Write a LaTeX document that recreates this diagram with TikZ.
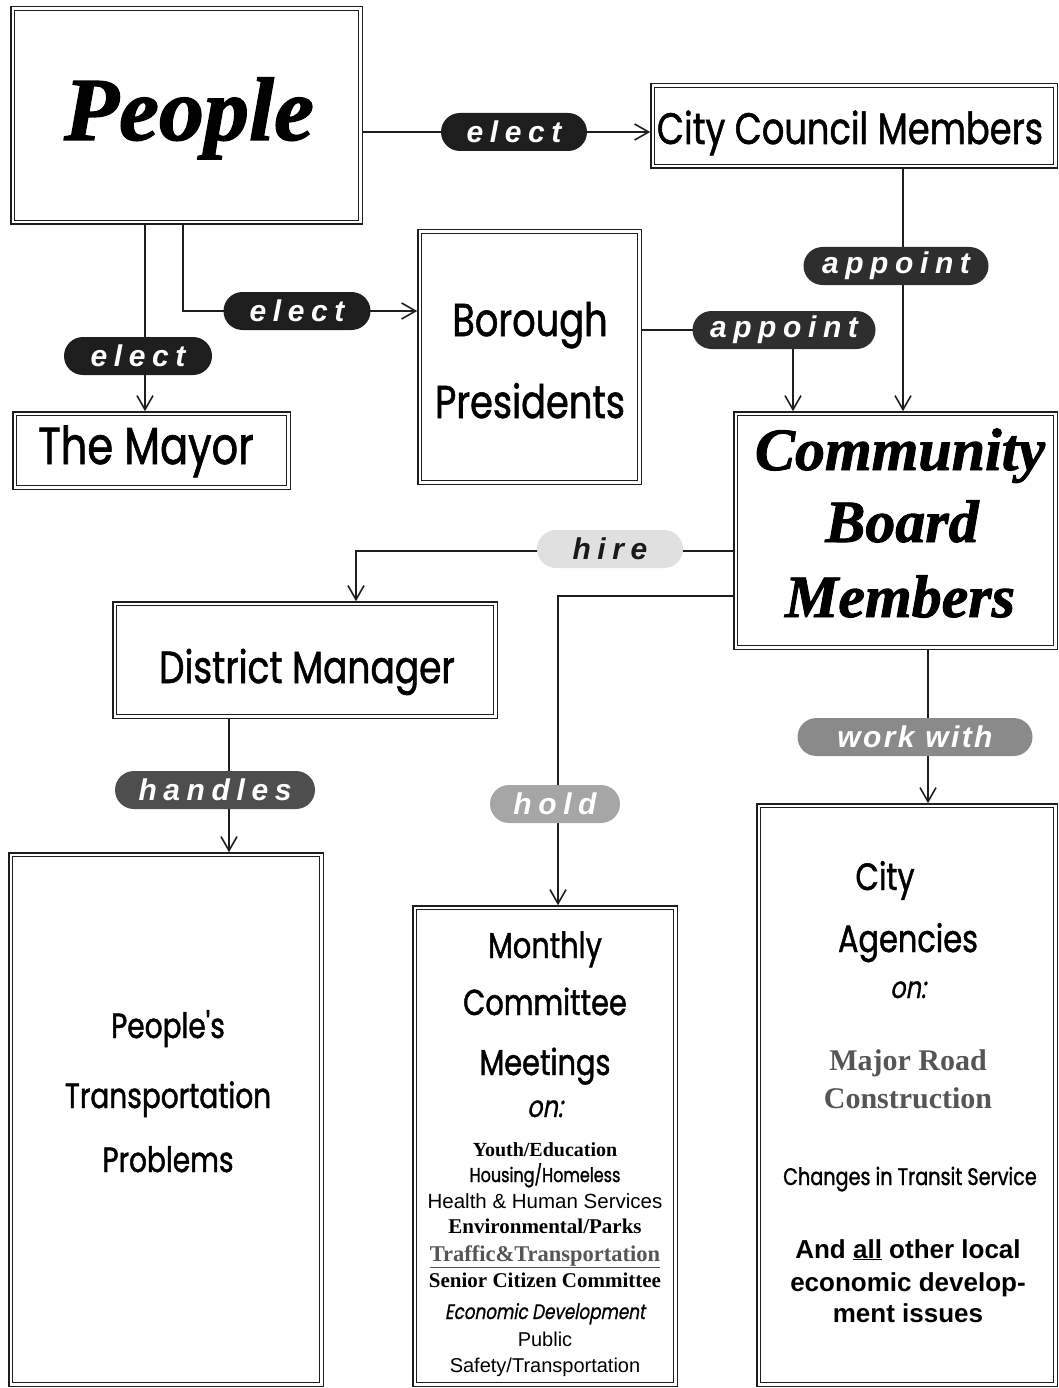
\documentclass[tikz,border=0pt]{standalone}
\usepackage{fontspec}
\setmainfont{Liberation Serif}
\newfontfamily\deco[FakeStretch=0.8,FakeBold=1.2]{Poppins}
\newfontfamily\decoit[FakeStretch=0.8,FakeSlant=0.18,FakeBold=0.8]{Poppins}
\newfontfamily\brush[FakeBold=1.5]{Liberation Serif}
\newfontfamily\pillfont[LetterSpace=22]{Liberation Sans}
\newfontfamily\pillfontw[LetterSpace=8]{Liberation Sans}
\newfontfamily\arial{Liberation Sans}
\usetikzlibrary{arrows.meta,backgrounds}
\definecolor{linec}{HTML}{1E1E1E}
\definecolor{pillA}{HTML}{1E1E1E}
\definecolor{pillB}{HTML}{2E2E2E}
\definecolor{pillC}{HTML}{4E4E4E}
\definecolor{pillD}{HTML}{8A8A8A}
\definecolor{pillE}{HTML}{A6A6A6}
\definecolor{pillF}{HTML}{E0E0E0}
\definecolor{graytext}{HTML}{555555}
\tikzset{
  box/.style={draw=linec, double=white, double distance=2.6pt, line width=1.2pt, fill=white, inner sep=0pt},
  pillbox/.style={rounded corners=19pt, minimum height=38pt, inner sep=0pt, text=white,
    font=\pillfont\bfseries\itshape\fontsize{30}{30}\selectfont},
  conn/.style={line width=1.6pt, draw=linec},
  arr/.style={conn, -{Straight Barb[length=14pt,width=16pt,line width=1.6pt]}, shorten >=2pt},
  t/.style={anchor=base, inner sep=0pt},
}
\begin{document}
\begin{tikzpicture}[x=1pt,y=-1pt]
\useasboundingbox (0,0) rectangle (1059,1388);

% boxes
\node[box, minimum width=347.4pt, minimum height=213.4pt] (people) at (186.5,115.5) {};
\node[box, minimum width=402.4pt, minimum height=80.4pt] (council) at (854,126) {};
\node[box, minimum width=219.4pt, minimum height=250.4pt] (borough) at (529.5,357) {};
\node[box, minimum width=273.4pt, minimum height=73.4pt] (mayor) at (151.5,450.5) {};
\node[box, minimum width=319.4pt, minimum height=233.4pt] (cbm) at (895.5,530.5) {};
\node[box, minimum width=380.4pt, minimum height=112.4pt] (dm) at (305,660) {};
\node[box, minimum width=310.4pt, minimum height=529.4pt] (ptp) at (166,1119.5) {};
\node[box, minimum width=260.4pt, minimum height=476.4pt] (mcm) at (545,1146) {};
\node[box, minimum width=296.4pt, minimum height=578.4pt] (agencies) at (907,1095) {};

% pills
\node[pillbox, fill=pillA, minimum width=146pt] (elect1) at (514,132) {elect};
\node[pillbox, fill=pillA, minimum width=147pt] (electB) at (297,311) {elect};
\node[pillbox, fill=pillA, minimum width=148pt] (electM) at (138,356) {elect};
\node[pillbox, fill=pillB, minimum width=185pt] (appoint1) at (896,266) {appoint};
\node[pillbox, fill=pillB, minimum width=183pt] (appoint2) at (784,330) {appoint};
\node[pillbox, fill=pillF, text=black!90, minimum width=146pt] (hire) at (610,549) {hire};
\node[pillbox, fill=pillC, minimum width=200pt] (handles) at (215,790) {handles};
\node[pillbox, fill=pillE, minimum width=130pt] (hold) at (555,804) {hold};
\node[pillbox, fill=pillD, minimum width=235pt, font=\pillfontw\bfseries\itshape\fontsize{30}{30}\selectfont] (workwith) at (915,737) {work with};

% turning points / line abscissae
\coordinate (mx) at (145,356);
\coordinate (bx) at (183,311);
\coordinate (ax) at (903,266);
\coordinate (cx) at (793,330);
\coordinate (hx) at (356,551);
\coordinate (holdturn) at (558,596);
\coordinate (wx) at (928,737);
\coordinate (dx) at (229,790);

\begin{scope}[on background layer]
\draw[arr] (elect1 -| people.east) -- (elect1 -| council.west);
\draw[arr] (people.south -| mx) -- (mayor.north -| mx);
\draw[arr] (people.south -| bx) |- (borough.west |- bx);
\draw[arr] (council.south -| ax) -- (cbm.north -| ax);
\draw[arr] (borough.east |- cx) -| (cbm.north -| cx);
\draw[arr] (cbm.west |- hx) -| (dm.north -| hx);
\draw[arr] (cbm.west |- holdturn) -| (mcm.north -| holdturn);
\draw[arr] (cbm.south -| wx) -- (agencies.north -| wx);
\draw[arr] (dm.south -| dx) -- (ptp.north -| dx);
\end{scope}

% box texts
\node[t, font=\brush\bfseries\itshape\fontsize{90}{90}\selectfont] (tpeople) at (189,140) {People};
\node[t, font=\deco\fontsize{44}{44}\selectfont] (tcouncil) at (850,144) {City Council Members};
\node[t, font=\deco\fontsize{46}{46}\selectfont] (tborough1) at (530,336) {Borough};
\node[t, font=\deco\fontsize{46}{46}\selectfont] (tborough2) at (530,418) {Presidents};
\node[t, font=\deco\fontsize{52}{52}\selectfont] (tmayor) at (146,464) {The Mayor};
\node[t, font=\brush\bfseries\itshape\fontsize{60}{60}\selectfont] (tcbm1) at (900,470) {Community};
\node[t, font=\brush\bfseries\itshape\fontsize{60}{60}\selectfont] (tcbm2) at (902,542) {Board};
\node[t, font=\brush\bfseries\itshape\fontsize{60}{60}\selectfont] (tcbm3) at (900,617) {Members};
\node[t, font=\deco\fontsize{45}{45}\selectfont] (tdm) at (307,683) {District Manager};

\node[t, font=\deco\fontsize{35}{35}\selectfont] (tptp1) at (168,1038) {People's};
\node[t, font=\deco\fontsize{35}{35}\selectfont] (tptp2) at (168,1108) {Transportation};
\node[t, font=\deco\fontsize{35}{35}\selectfont] (tptp3) at (168,1172) {Problems};

\node[t, font=\deco\fontsize{36}{36}\selectfont] (tm1) at (545,958) {Monthly};
\node[t, font=\deco\fontsize{36}{36}\selectfont] (tm2) at (545,1015) {Committee};
\node[t, font=\deco\fontsize{36}{36}\selectfont] (tm3) at (545,1075) {Meetings};
\node[t, font=\decoit\fontsize{30}{30}\selectfont] (tm4) at (545,1117) {on:};
\node[t, font=\bfseries\fontsize{20}{20}\selectfont] (tm5) at (545,1156) {Youth/Education};
\node[t, font=\deco\fontsize{20}{20}\selectfont] (tm6) at (545,1182) {Housing/Homeless};
\node[t, font=\arial\fontsize{20.5}{20.5}\selectfont] (tm7) at (545,1208) {Health \& Human Services};
\node[t, font=\bfseries\fontsize{21}{21}\selectfont] (tm8) at (545,1233) {Environmental/Parks};
\node[t, font=\bfseries\fontsize{22.5}{22.5}\selectfont, text=graytext] (tm9) at (545,1261) {\underline{Traffic\&Transportation}};
\node[t, font=\bfseries\fontsize{21}{21}\selectfont] (tm10) at (545,1287) {Senior Citizen Committee};
\node[t, font=\decoit\fontsize{21}{21}\selectfont] (tm11) at (545,1319) {Economic Development};
\node[t, font=\arial\fontsize{20}{20}\selectfont] (tm12) at (545,1346) {Public};
\node[t, font=\arial\fontsize{20}{20}\selectfont] (tm13) at (545,1372) {Safety/Transportation};

\node[t, font=\deco\fontsize{38}{38}\selectfont] (ta1) at (885,890) {City};
\node[t, font=\deco\fontsize{38}{38}\selectfont] (ta2) at (908,952) {Agencies};
\node[t, font=\decoit\fontsize{30}{30}\selectfont] (ta3) at (908,998) {on:};
\node[t, font=\bfseries\fontsize{30}{30}\selectfont, text=graytext] (ta4) at (908,1070) {Major Road};
\node[t, font=\bfseries\fontsize{30}{30}\selectfont, text=graytext] (ta5) at (908,1108) {Construction};
\node[t, font=\deco\fontsize{24}{24}\selectfont] (ta6) at (910,1185) {Changes in Transit Service};
\node[t, font=\arial\bfseries\fontsize{26}{26}\selectfont] (ta7) at (908,1258) {And \underline{all} other local};
\node[t, font=\arial\bfseries\fontsize{26}{26}\selectfont] (ta8) at (908,1291) {economic develop-};
\node[t, font=\arial\bfseries\fontsize{26}{26}\selectfont] (ta9) at (908,1322) {ment issues};
\end{tikzpicture}
\end{document}
